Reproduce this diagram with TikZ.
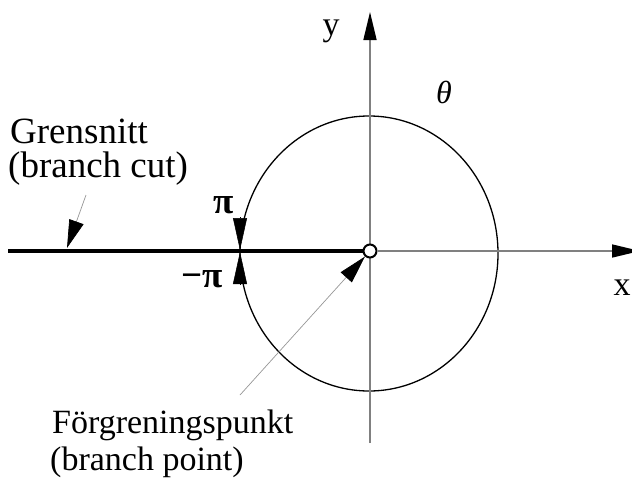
\documentclass[tikz,border=0pt]{standalone}
\usepackage{fontspec}
\setmainfont{Liberation Serif}
\usetikzlibrary{arrows.meta}
\definecolor{axisgray}{RGB}{128,128,128}
\definecolor{ptrgray}{RGB}{150,150,150}
\begin{document}
\begin{tikzpicture}[x=1pt,y=-1pt,
  axisline/.style={draw=axisgray, line width=1.6pt, -{Triangle[length=28pt,width=13pt,color=black]}},
  pointer/.style={draw=ptrgray, line width=0.7pt, -{Triangle[length=28pt,width=15pt,color=black]}},
  pitip/.style={draw=black, line width=0.5pt, -{Triangle[length=32pt,width=14pt]}},
  lbl/.style={inner sep=0pt, font=\fontsize{34}{34}\selectfont},
  biglbl/.style={inner sep=0pt, font=\fontsize{37}{37}\selectfont},
  pilbl/.style={inner sep=0pt, font=\bfseries\fontsize{37}{37}\selectfont},
]
\useasboundingbox (0,0) rectangle (632,482);
\coordinate (O) at (370,251);
\coordinate (ybot) at (370,443);
\coordinate (ytop) at (370,12);
\coordinate (xend) at (640,251);
\coordinate (cutstart) at (8,251);
% circle
\draw[line width=1.3pt] (369,253.5) ellipse [x radius=129pt, y radius=137.5pt];
% axes
\draw[axisline] (ybot) -- (ytop);
\node[circle, draw=black, line width=2pt, fill=white, minimum size=13pt, inner sep=0pt] (o) at (O) {};
\draw[axisline] (o.east) -- (xend);
% branch cut
\draw[line width=3.5pt] (cutstart) -- (o.west);
% pi arrows
\coordinate (pa1) at (240,217);
\coordinate (pa2) at (240,250);
\coordinate (pb1) at (240,284);
\coordinate (pb2) at (240,252);
\draw[pitip] (pa1) -- (pa2);
\draw[pitip] (pb1) -- (pb2);
% labels
\node[biglbl, anchor=base west] (g1) at (10,143) {Grensnitt};
\node[biglbl, anchor=base west] (g2) at (8,177) {(branch cut)};
\node[lbl, anchor=base west] (f1) at (52,433) {Förgreningspunkt};
\node[lbl, anchor=base west] (f2) at (50,470) {(branch point)};
\node[lbl, anchor=base] (ylab) at (331,35) {y};
\node[lbl, anchor=base] (xlab) at (622,295) {x};
\node[inner sep=0pt, anchor=base, font=\itshape\fontsize{32}{32}\selectfont] (th) at (444,103) {θ};
\node[pilbl, anchor=base] (pi) at (224,213) {π};
\node[pilbl, anchor=base east] (mpi) at (223,287) {−π};
% pointers
\coordinate (gs) at (86,195);
\coordinate (gt) at (67,248);
\draw[pointer] (gs) -- (gt);
\coordinate (fs) at (240,395);
\draw[pointer] (fs) -- (o);
\end{tikzpicture}
\end{document}
